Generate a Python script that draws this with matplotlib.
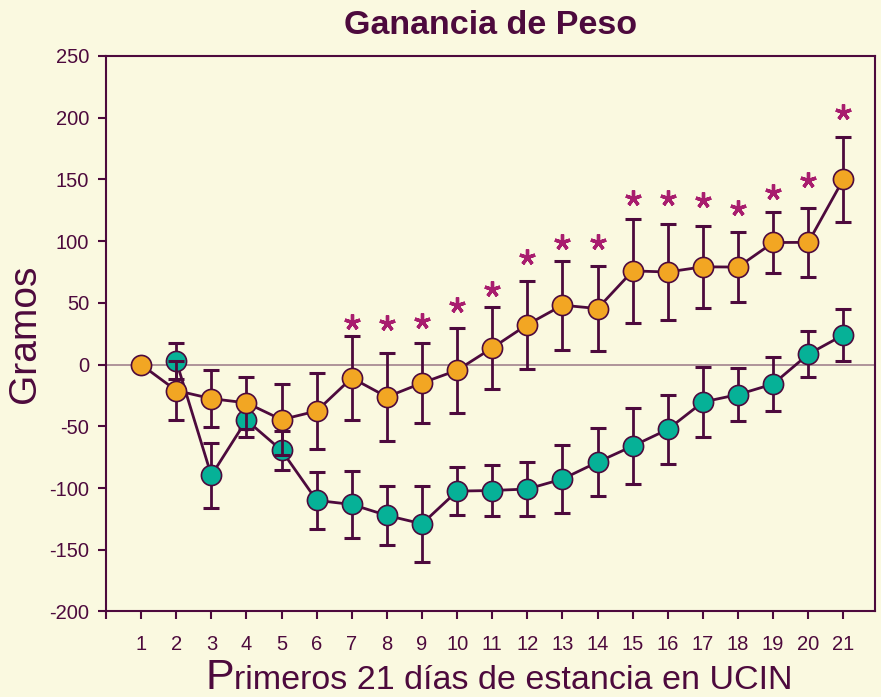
import numpy as np
import matplotlib
matplotlib.use("Agg")
import matplotlib.pyplot as plt
from matplotlib.offsetbox import TextArea, HPacker, AnchoredOffsetbox

# Datos (gramos)
dias = np.arange(1, 22)
naranja = [0, -21, -27.6, -31, -44.6, -37.6, -10.8, -26.2, -14.9, -4.6, 13.5,
           32.4, 48.1, 45.4, 75.9, 75.0, 79.2, 79.0, 98.9, 99.0, 150.2]
naranja_err = [0, 24, 23, 21, 29, 30.4, 34, 35.5, 32.5, 34.5, 33,
               35.6, 36, 34.5, 42, 39, 33, 28.4, 24.7, 27.7, 34.5]

dias_verde = np.arange(2, 22)
verde = [3, -89.8, -45, -69.5, -110, -113.3, -122.2, -129, -102.5, -102,
         -100.8, -92.7, -79, -66, -52.5, -30.3, -24.3, -15.7, 8.4, 24]
verde_err = [14.5, 26.5, 13.7, 16, 23, 27, 24, 31, 19.6, 21,
             22, 27.5, 27.4, 31, 28, 28, 21.7, 21.8, 18.7, 21.4]

# asteriscos de significancia
dias_sig = np.arange(7, 22)
altura_sig = [34.5, 33.7, 35.1, 48, 61.6, 87.2, 99.4, 99.4, 134.6, 134.6,
              133.2, 127, 140, 149.5, 204.8]

fondo = "#FAF9E0"
granate = "#4D0A3D"
c_naranja = "#F2A623"
c_verde = "#06B197"
c_estrella = "#A81D6E"

plt.rcParams['font.family'] = ['Liberation Sans', 'DejaVu Sans']
plt.rcParams['axes.unicode_minus'] = False

fig = plt.figure(figsize=(8.81, 6.97), dpi=100, facecolor=fondo)
ax = fig.add_axes([0.1203, 0.1227, 0.8729, 0.797])
ax.set_facecolor(fondo)

ax.axhline(0, color="#9A7886", lw=1.1, zorder=1)

# serie verde
ax.errorbar(dias_verde, verde, yerr=verde_err, fmt='none', ecolor=granate,
            elinewidth=2, capsize=6, capthick=2.2, zorder=2)
ax.plot(dias_verde, verde, '-o', color=granate, lw=2, markersize=14.5,
        markerfacecolor=c_verde, markeredgecolor=granate, markeredgewidth=1.2, zorder=3)

# serie naranja
ax.errorbar(dias, naranja, yerr=naranja_err, fmt='none', ecolor=granate,
            elinewidth=2, capsize=6, capthick=2.2, zorder=4)
ax.plot(dias, naranja, '-o', color=granate, lw=2, markersize=14.5,
        markerfacecolor=c_naranja, markeredgecolor=granate, markeredgewidth=1.2, zorder=5)

ax.plot(dias_sig, altura_sig, linestyle='none', marker=(5, 2, 0), markersize=11.5,
        markeredgewidth=2.4, color=c_estrella, zorder=6)

ax.set_xlim(0, 21.9)
ax.set_ylim(-200, 250)
ax.set_yticks(np.arange(-200, 251, 50))
ax.set_xticks(np.arange(0, 22))
ax.set_xticklabels([''] + [str(d) for d in dias])

for s in ax.spines.values():
    s.set_color(granate)
    s.set_linewidth(1.5)
ax.tick_params(axis='both', colors=granate, labelsize=14.5, length=6, width=1.5)
ax.tick_params(axis='x', pad=11)
ax.tick_params(axis='y', pad=6)

ax.set_title("Ganancia de Peso", fontsize=24.5, fontweight='bold', color=granate, pad=16)
ax.set_ylabel("Gramos", fontsize=28, color=granate)
ax.yaxis.set_label_coords(-0.082, 0.5)

# etiqueta del eje x con la P mas grande
p_grande = TextArea("P", textprops=dict(fontsize=31, color=granate))
resto = TextArea("rimeros 21 días de estancia en UCIN", textprops=dict(fontsize=24.5, color=granate))
caja = HPacker(children=[p_grande, resto], align="baseline", pad=0, sep=0)
etiqueta = AnchoredOffsetbox(loc='lower center', child=caja, pad=0, borderpad=0, frameon=False,
                             bbox_to_anchor=(0.566, -0.001), bbox_transform=fig.transFigure)
fig.add_artist(etiqueta)

plt.savefig("out.png", dpi=100, facecolor=fondo)
